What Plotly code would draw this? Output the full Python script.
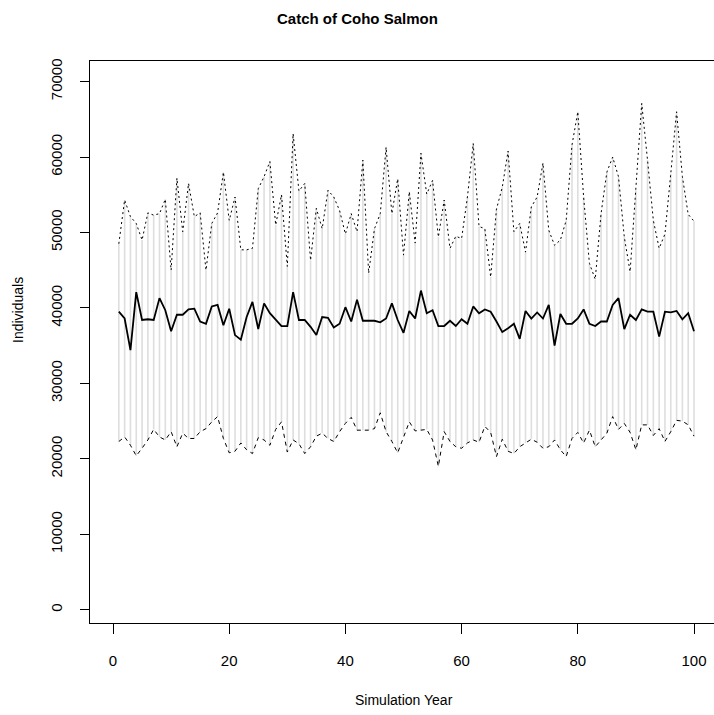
import plotly.graph_objects as go

years = list(range(1, 101))

mean_k = [39.5, 38.6, 34.4, 42.1, 38.4, 38.5, 38.4, 41.3, 39.7, 36.9,
          39.1, 39.1, 39.8, 39.9, 38.2, 37.9, 40.2, 40.4, 37.7, 39.9,
          36.4, 35.8, 38.8, 40.8, 37.2, 40.6, 39.3, 38.4, 37.6, 37.6,
          42.1, 38.4, 38.4, 37.5, 36.4, 38.8, 38.7, 37.4, 37.9, 40.1,
          38.2, 41.1, 38.3, 38.3, 38.3, 38.1, 38.6, 40.6, 38.4, 36.7,
          39.6, 38.6, 42.3, 39.3, 39.7, 37.6, 37.6, 38.3, 37.6, 38.5,
          37.9, 40.2, 39.3, 39.8, 39.5, 38.2, 36.8, 37.3, 37.9, 35.9,
          39.6, 38.6, 39.4, 38.6, 40.4, 35.0, 39.2, 37.9, 37.9, 38.6,
          39.8, 37.9, 37.6, 38.2, 38.2, 40.4, 41.3, 37.2, 39.1, 38.4,
          39.8, 39.5, 39.5, 36.2, 39.5, 39.4, 39.6, 38.5, 39.3, 36.9]

upper_k = [48.5, 54.3, 52.1, 51.2, 49.0, 52.6, 52.3, 52.5, 54.4, 45.0,
           57.2, 50.1, 56.5, 52.1, 52.6, 45.0, 51.2, 52.6, 58.0, 51.6,
           54.7, 47.7, 47.7, 47.9, 55.8, 57.4, 59.4, 51.0, 55.0, 45.5,
           63.1, 55.5, 56.5, 46.3, 53.2, 50.5, 55.6, 54.7, 52.9, 49.8,
           52.5, 50.1, 59.6, 44.6, 50.5, 52.5, 61.3, 52.5, 57.1, 47.0,
           55.4, 48.6, 60.5, 55.1, 56.9, 49.4, 54.3, 47.9, 49.5, 49.2,
           54.7, 61.8, 50.8, 50.5, 44.1, 53.1, 56.0, 60.8, 50.1, 51.2,
           47.4, 53.4, 54.7, 59.2, 50.3, 48.3, 49.0, 51.6, 61.6, 66.0,
           54.7, 45.9, 43.8, 52.5, 58.0, 60.0, 57.4, 49.4, 44.8, 55.6,
           67.1, 59.6, 51.6, 47.9, 49.8, 57.8, 66.0, 57.4, 52.4, 51.5]

lower_k = [22.3, 22.9, 21.8, 20.4, 21.4, 22.5, 23.9, 22.9, 22.5, 23.6,
           21.6, 23.4, 22.7, 22.7, 23.6, 24.0, 24.9, 25.6, 22.7, 20.8,
           21.0, 22.1, 21.2, 20.7, 22.8, 22.5, 21.8, 23.9, 24.9, 20.9,
           22.5, 22.0, 20.7, 21.6, 23.0, 23.4, 22.7, 22.3, 23.6, 24.7,
           25.5, 23.8, 23.8, 23.8, 24.0, 26.1, 23.6, 22.3, 20.8, 23.0,
           24.9, 23.7, 23.8, 23.9, 22.5, 19.0, 23.6, 22.3, 21.6, 21.4,
           22.1, 22.5, 22.2, 24.3, 23.5, 20.3, 22.6, 21.0, 20.7, 21.6,
           22.1, 22.6, 22.2, 21.4, 21.6, 22.5, 21.2, 20.3, 22.7, 23.5,
           22.1, 23.8, 21.6, 22.5, 23.4, 25.6, 23.9, 24.7, 23.5, 21.2,
           24.5, 24.5, 23.1, 24.0, 22.3, 23.6, 25.1, 25.0, 24.5, 23.0]

mean_vals = [v * 1000 for v in mean_k]
upper_vals = [v * 1000 for v in upper_k]
lower_vals = [v * 1000 for v in lower_k]

x_ticks = [0, 20, 40, 60, 80, 100]
y_ticks = [0, 10000, 20000, 30000, 40000, 50000, 60000, 70000]

title_text = "Catch of Coho Salmon"
x_title = "Simulation Year"
y_title = "Individuals"

FONT = "Liberation Sans, Arial, sans-serif"

# gray range segments
seg_x, seg_y = [], []
for yr, lo, hi in zip(years, lower_vals, upper_vals):
    seg_x += [yr, yr, None]
    seg_y += [lo, hi, None]

fig = go.Figure()
fig.add_trace(go.Scatter(x=seg_x, y=seg_y, mode="lines",
                         line=dict(color="#dedede", width=1.6),
                         hoverinfo="skip", showlegend=False))
fig.add_trace(go.Scatter(x=years, y=upper_vals, mode="lines",
                         line=dict(color="black", width=1, dash="2px,3px"),
                         showlegend=False))
fig.add_trace(go.Scatter(x=years, y=lower_vals, mode="lines",
                         line=dict(color="black", width=1, dash="4px,4px"),
                         showlegend=False))
fig.add_trace(go.Scatter(x=years, y=mean_vals, mode="lines",
                         line=dict(color="black", width=1.8),
                         showlegend=False))

W, H = 714, 715
L, R, T, B = 90, 0, 61, 92

fig.update_layout(
    width=W, height=H,
    margin=dict(l=L, r=R, t=T, b=B, pad=0),
    paper_bgcolor="white", plot_bgcolor="white",
    font=dict(family=FONT, size=15, color="black"),
    showlegend=False,
    xaxis=dict(range=[-3.96, 103.44], tickmode="array", tickvals=x_ticks,
               ticktext=[str(v) for v in x_ticks],
               showgrid=False, zeroline=False,
               showline=True, linecolor="black", linewidth=1, mirror=True,
               ticks="outside", ticklen=10, tickwidth=1, tickcolor="black",
               ticklabelstandoff=14,
               tickfont=dict(family=FONT, size=15, color="black")),
    yaxis=dict(range=[-1760, 72730], tickmode="array", tickvals=y_ticks,
               ticktext=[str(v) for v in y_ticks],
               showgrid=False, zeroline=False,
               showline=True, linecolor="black", linewidth=1, mirror=False,
               ticks="outside", ticklen=9, tickwidth=1, tickcolor="black",
               tickangle=-90, ticklabelstandoff=12,
               tickfont=dict(family=FONT, size=15, color="black")),
    annotations=[
        dict(text="<b>" + title_text + "</b>", xref="paper", yref="paper",
             x=(357 - L) / (W - L - R), y=1 + (T - 18) / (H - T - B),
             xanchor="center", yanchor="middle", showarrow=False,
             font=dict(family=FONT, size=15, color="black")),
        dict(text=x_title, xref="paper", yref="paper",
             x=(404 - L) / (W - L - R), y=-(700 - (H - B)) / (H - T - B),
             xanchor="center", yanchor="middle", showarrow=False,
             font=dict(family=FONT, size=14, color="black")),
        dict(text=y_title, xref="paper", yref="paper",
             x=-(L - 18) / (W - L - R), y=1 - (310 - T) / (H - T - B),
             xanchor="center", yanchor="middle", showarrow=False, textangle=-90,
             font=dict(family=FONT, size=14, color="black")),
    ],
)

fig.write_html("out.html")
